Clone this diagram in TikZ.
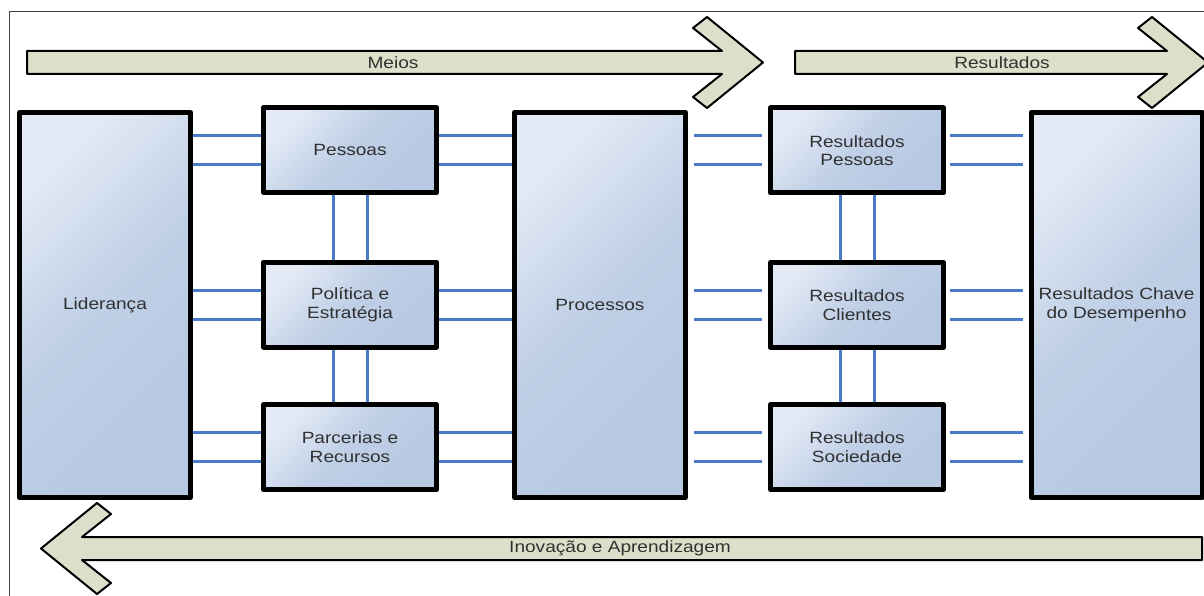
\documentclass[tikz,border=0pt]{standalone}
\usepackage{fontspec}
\newfontfamily\lblfont[FakeStretch=1.17]{Liberation Sans}
\newcommand\lblfnt{\lblfont\fontsize{16.3}{18.5}\selectfont}
\usetikzlibrary{backgrounds}

\definecolor{boxlight}{HTML}{E3EAF5}
\definecolor{boxdark}{HTML}{B6C8E2}
\definecolor{wirecol}{HTML}{4A7BC6}
\definecolor{arrowfill}{HTML}{DCE0CA}
\definecolor{inkgray}{HTML}{303030}

\tikzset{
  panel/.style={draw=black, line width=5pt, line join=round,
    top color=boxlight, bottom color=boxdark, middle color=boxdark!80!boxlight,
    shading angle=45, inner sep=0pt, align=center, text=inkgray, font=\lblfnt},
  tallpanel/.style={panel, minimum width=171pt, minimum height=385pt},
  smallpanel/.style={panel, minimum width=173pt, minimum height=85pt},
  wire/.style={draw=wirecol, line width=3pt},
  bigarrow/.style={fill=arrowfill, draw=black, line width=2pt, line join=round},
  arrowlabel/.style={text=inkgray, font=\lblfnt, inner sep=0pt},
  frameline/.style={draw=black!75, line width=1pt}
}

\begin{document}
\begin{tikzpicture}[x=1pt, y=-1pt]
  \useasboundingbox (0,0) rectangle (1204,596);
  \clip (0,0) rectangle (1204,596);

  % outer frame (top and left edges)
  \draw[frameline] (9,596) -- (9,12) -- (1204,12);

  % big direction arrows
  \draw[bigarrow] (27,51) -- (722,51) -- (693,28) -- (707,17) -- (763,62.5)
    -- (707,108) -- (693,97) -- (722,74) -- (27,74) -- cycle;
  \node[arrowlabel] (meios) at (393,62.5) {Meios};

  \draw[bigarrow] (795,51) -- (1167,51) -- (1138,28) -- (1152,17) -- (1208,62.5)
    -- (1152,108) -- (1138,97) -- (1167,74) -- (795,74) -- cycle;
  \node[arrowlabel] (resultados) at (1002,62.5) {Resultados};

  \draw[bigarrow] (1202,537) -- (82,537) -- (111,514) -- (97,503) -- (41,548.5)
    -- (97,594) -- (111,583) -- (82,560) -- (1202,560) -- cycle;
  \node[arrowlabel] (inovacao) at (620,548.5) {Inovação e Aprendizagem};

  % criteria panels
  \node[tallpanel]  (lid) at (105,305)    {Liderança};
  \node[smallpanel] (pes) at (350,150)    {Pessoas};
  \node[smallpanel] (pol) at (350,304.5)  {Política e\\Estratégia};
  \node[smallpanel] (par) at (350,447)    {Parcerias e\\Recursos};
  \node[tallpanel]  (pro) at (600,305)    {Processos};
  \node[smallpanel] (rpe) at (857,150.5)  {Resultados\\Pessoas};
  \node[smallpanel] (rcl) at (857,305)    {Resultados\\Clientes};
  \node[smallpanel] (rso) at (857,447)    {Resultados\\Sociedade};
  \node[tallpanel]  (chv) at (1116.5,305) {Resultados Chave\\do Desempenho};

  % double connectors behind the panels
  \begin{scope}[on background layer]
    \foreach \s in {14.5,-14.5} {
      % enablers: leadership to the three middle panels
      \foreach \n in {pes,pol,par} {
        \draw[wire] ([yshift=\s pt]\n.west) -- ([yshift=\s pt]\n.west -| lid.east);
        \draw[wire] ([yshift=\s pt]\n.east) -- ([yshift=\s pt]\n.east -| pro.west);
      }
      % results: processes to results panels to key results
      \foreach \n in {rpe,rcl,rso} {
        \draw[wire, shorten <=6pt, shorten >=6pt]
          ([yshift=\s pt]\n.west) -- ([yshift=\s pt]\n.west -| pro.east);
        \draw[wire, shorten <=3.5pt, shorten >=5.5pt]
          ([yshift=\s pt]\n.east) -- ([yshift=\s pt]\n.east -| chv.west);
      }
    }
    \foreach \s in {-17,17} {
      \draw[wire] ([xshift=\s pt]pes.south) -- ([xshift=\s pt]pol.north);
      \draw[wire] ([xshift=\s pt]pol.south) -- ([xshift=\s pt]par.north);
      \draw[wire] ([xshift=\s pt]rpe.south) -- ([xshift=\s pt]rcl.north);
      \draw[wire] ([xshift=\s pt]rcl.south) -- ([xshift=\s pt]rso.north);
    }
  \end{scope}
\end{tikzpicture}
\end{document}
